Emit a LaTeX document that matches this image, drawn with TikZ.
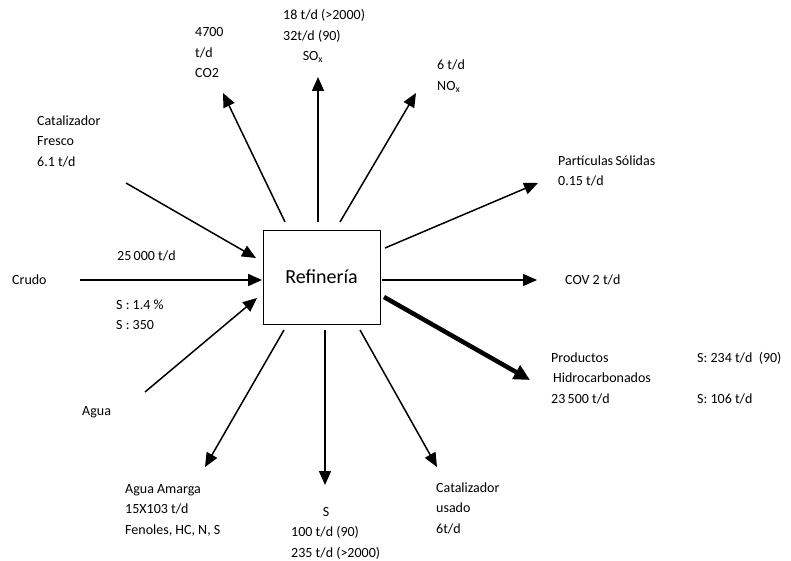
\documentclass[tikz,border=0pt]{standalone}
\usepackage{fontspec}
\setmainfont{Carlito}
\usetikzlibrary{arrows.meta}

\begin{document}
\begin{tikzpicture}[x=1pt, y=-1pt,
  lbl/.style={font=\fontsize{14}{20.5}\selectfont, align=left, inner sep=0pt, anchor=west},
  flow/.style={line width=1.5pt, -{Triangle[length=14pt,width=12pt]}}]
\useasboundingbox (0,0) rectangle (791,561);
\node[draw, line width=1pt, minimum width=117pt, minimum height=94pt, font=\fontsize{20}{24}\selectfont] (ref) at (321.5,277) {Refinería};
% entradas
\coordinate (crA) at (80,280);   \coordinate (crB) at (262,280);
\coordinate (cfA) at (126,183);  \coordinate (cfB) at (256,258);
\coordinate (agA) at (145,392);  \coordinate (agB) at (257,298);
% salidas
\coordinate (coA) at (285,222);  \coordinate (coB) at (223,93);
\coordinate (soA) at (318,222);  \coordinate (soB) at (318,77);
\coordinate (noA) at (340,222);  \coordinate (noB) at (416,93);
\coordinate (paA) at (385,248);  \coordinate (paB) at (538,183);
\coordinate (cvA) at (382,280);  \coordinate (cvB) at (537,280);
\coordinate (prA) at (384,297);  \coordinate (prB) at (530,380);
\coordinate (cuA) at (360,330);  \coordinate (cuB) at (437,467);
\coordinate (sA) at (325,330);   \coordinate (sB) at (325,485);
\coordinate (amA) at (284,330);  \coordinate (amB) at (205,467);

\node[lbl] (crudo) at (12,280) {Crudo};
\node[lbl] (crq) at (117,256) {25\,000 t/d};
\node[lbl] (crs) at (116,315) {S : 1.4 \%\\S : 350};
\node[lbl] (cf) at (37,141) {Catalizador\\Fresco\\6.1 t/d};
\node[lbl] (agua) at (82,412) {Agua};
\node[lbl] (co) at (195,53) {4700\\t/d\\CO2};
\node[lbl] (soq) at (283,26) {18 t/d (>2000)\\32t/d (90)};
\node[lbl, anchor=center] (so) at (313,57) {SO\textsubscript{x}};
\node[lbl] (no) at (437,76) {6 t/d\\NO\textsubscript{x}};
\node[lbl] (pa) at (558,171) {Partículas\,Sólidas\\0.15 t/d};
\node[lbl] (cov) at (565,280) {COV 2 t/d};
\node[lbl] (pr) at (551,378) {Productos\\\hspace{2pt}Hidrocarbonados\\23\,500 t/d};
\node[lbl] (prs) at (697,378) {S: 234 t/d\ \ (90)\\\\S: 106 t/d};
\node[lbl] (cu) at (436,508) {Catalizador\\usado\\6t/d};
\node[lbl, anchor=center] (s) at (326,512) {S};
\node[lbl] (sq) at (291,543) {100 t/d (90)\\235 t/d (>2000)};
\node[lbl] (am) at (125,510) {Agua Amarga\\15X103 t/d\\Fenoles, HC, N, S};

\draw[flow, line width=2pt] (crA) -- (crB);
\draw[flow] (cfA) -- (cfB);
\draw[flow] (agA) -- (agB);
\draw[flow] (coA) -- (coB);
\draw[flow] (soA) -- (soB);
\draw[flow] (noA) -- (noB);
\draw[flow] (paA) -- (paB);
\draw[flow] (cvA) -- (cvB);
\draw[flow, line width=4.5pt, -{Triangle[length=16pt,width=15pt]}] (prA) -- (prB);
\draw[flow] (cuA) -- (cuB);
\draw[flow] (sA) -- (sB);
\draw[flow] (amA) -- (amB);
\end{tikzpicture}
\end{document}
